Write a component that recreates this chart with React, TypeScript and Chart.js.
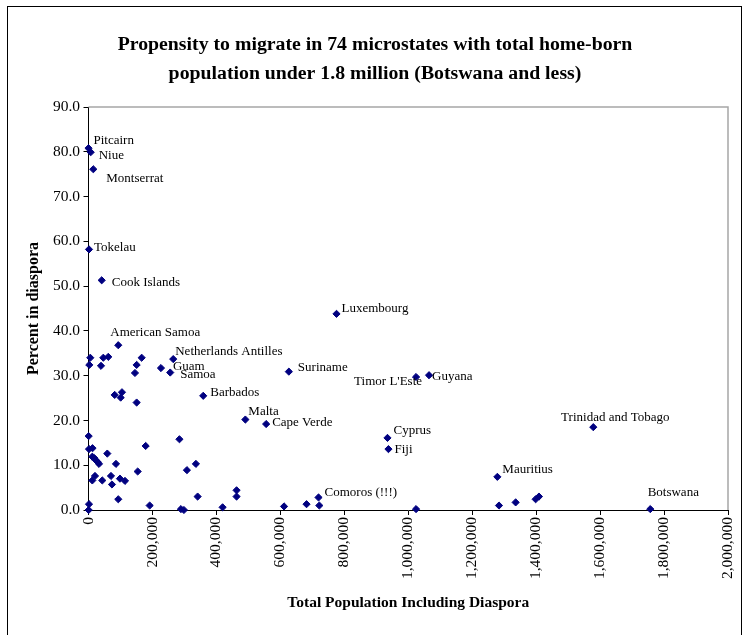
import React, { useEffect, useRef } from 'react';
import { Chart, registerables } from 'chart.js';

Chart.register(...registerables);

const titleLines = [
  'Propensity to migrate in 74 microstates with total home-born',
  'population under 1.8 million (Botswana and less)',
];
const xAxisTitle = 'Total Population Including Diaspora';
const yAxisTitle = 'Percent in diaspora';

const xTickValues = [0, 200000, 400000, 600000, 800000, 1000000, 1200000, 1400000, 1600000, 1800000, 2000000];
const yTickValues = [0, 10, 20, 30, 40, 50, 60, 70, 80, 90];

const population = [
  50, 6900, 15000, 1600, 41300, 93100,
  5600, 46300, 61900, 166300, 265000,
  2500, 39100, 150600, 226600, 145300, 255600, 626600,
  81900, 104700, 100600, 150600, 358800, 490600, 555600,
  775600, 1024400, 1065000, 935000, 938100, 1578700, 1278700, 1756900, 719400,
  721900, 681900, 611600, 1024400, 1283800, 1335900, 1398400, 1408800,
  500, 284400, 178800, 1600, 12500, 11900, 18100, 23400, 28800, 32800,
  58800, 85900, 335900, 307800, 153800, 20300, 70300, 11900, 43100, 73400, 98400, 114100,
  93100, 1600, 500, 191300, 289100, 298400, 341300, 463100, 463100, 419400,
];

const percentInDiaspora = [
  80.8, 79.9, 76.1, 58.2, 51.3, 36.8,
  34.0, 34.0, 34.2, 34.0, 33.7,
  32.4, 32.2, 32.4, 31.7, 30.6, 30.7, 30.9,
  25.7, 26.3, 25.1, 24.0, 25.5, 20.2, 19.2,
  43.8, 29.7, 30.1, 16.1, 13.6, 18.5, 7.4, 0.2, 2.8,
  1.0, 1.3, 0.8, 0.2, 1.0, 1.7, 2.4, 3.0,
  16.5, 15.8, 14.3, 13.6, 13.8, 11.9, 11.6, 11.1, 10.7, 10.3,
  12.6, 10.3, 10.3, 8.9, 8.6, 7.6, 7.6, 6.6, 6.6, 5.7, 7.0, 6.5,
  2.4, 1.3, 0.0, 1.0, 0.2, 0.0, 3.0, 4.4, 3.0, 0.6,
];

const countryNames = [
  'Pitcairn', 'Niue', 'Montserrat', 'Tokelau', 'Cook Islands', 'American Samoa',
  '', '', '', '', 'Netherlands Antilles',
  '', '', '', 'Guam', '', 'Samoa', 'Suriname',
  '', '', '', '', 'Barbados', 'Malta', 'Cape Verde',
  'Luxembourg', "Timor L'Este", 'Guyana', 'Cyprus', 'Fiji', 'Trinidad and Tobago', 'Mauritius', 'Botswana', 'Comoros (!!!)',
  '', '', '', '', '', '', '', '',
  '', '', '', '', '', '', '', '', '', '',
  '', '', '', '', '', '', '', '', '', '', '', '',
  '', '', '', '', '', '', '', '', '', '',
];

// label offsets (style only)
const labelPlacement: Record<string, { dx: number; dy: number; align: CanvasTextAlign }> = {
  'Pitcairn': { dx: 5, dy: -8, align: 'left' },
  'Niue': { dx: 8, dy: 3, align: 'left' },
  'Montserrat': { dx: 13, dy: 9, align: 'left' },
  'Tokelau': { dx: 5, dy: -2, align: 'left' },
  'Cook Islands': { dx: 10, dy: 2, align: 'left' },
  'American Samoa': { dx: -8, dy: -13, align: 'left' },
  'Netherlands Antilles': { dx: 2, dy: -8, align: 'left' },
  'Guam': { dx: 12, dy: -1, align: 'left' },
  'Samoa': { dx: 10, dy: 2, align: 'left' },
  'Suriname': { dx: 9, dy: -4, align: 'left' },
  'Barbados': { dx: 7, dy: -3, align: 'left' },
  'Malta': { dx: 3, dy: -8, align: 'left' },
  'Cape Verde': { dx: 6, dy: -1, align: 'left' },
  'Luxembourg': { dx: 5, dy: -5, align: 'left' },
  "Timor L'Este": { dx: 6, dy: 5, align: 'right' },
  'Guyana': { dx: 3, dy: 1, align: 'left' },
  'Cyprus': { dx: 6, dy: -7, align: 'left' },
  'Fiji': { dx: 6, dy: 0, align: 'left' },
  'Comoros (!!!)': { dx: 6, dy: -5, align: 'left' },
  'Mauritius': { dx: 5, dy: -7, align: 'left' },
  'Trinidad and Tobago': { dx: 22, dy: -10, align: 'center' },
  'Botswana': { dx: 23, dy: -17, align: 'center' },
};

const SERIF = '"Liberation Serif", "Times New Roman", serif';

const fmtThousands = (v: number) => String(Math.round(v)).replace(/\B(?=(\d{3})+(?!\d))/g, ',');

const plotFramePlugin = {
  id: 'plotFrame',
  beforeDatasetsDraw(chart: any) {
    const { ctx, chartArea: a } = chart;
    ctx.save();
    ctx.strokeStyle = '#a6a6a6';
    ctx.lineWidth = 1.5;
    ctx.beginPath();
    ctx.moveTo(a.left, a.top);
    ctx.lineTo(a.right, a.top);
    ctx.lineTo(a.right, a.bottom);
    ctx.stroke();
    ctx.restore();
  },
};

const pointLabelPlugin = {
  id: 'pointLabels',
  afterDatasetsDraw(chart: any) {
    const { ctx } = chart;
    const meta = chart.getDatasetMeta(0);
    ctx.save();
    ctx.font = `13px ${SERIF}`;
    ctx.fillStyle = '#000';
    ctx.textBaseline = 'middle';
    meta.data.forEach((el: any, i: number) => {
      const name = countryNames[i];
      if (!name) return;
      const p = labelPlacement[name];
      if (!p) return;
      ctx.textAlign = p.align;
      ctx.fillText(name, el.x + p.dx, el.y + p.dy);
    });
    ctx.restore();
  },
};

export default function App() {
  const canvasRef = useRef<HTMLCanvasElement | null>(null);

  useEffect(() => {
    if (!canvasRef.current) return;
    const points = population.map((x, i) => ({ x, y: percentInDiaspora[i] }));
    const chart = new Chart(canvasRef.current, {
      type: 'scatter',
      data: {
        datasets: [
          {
            data: points,
            pointStyle: 'rectRot',
            pointRadius: 3.6,
            pointHoverRadius: 3.6,
            backgroundColor: '#000080',
            borderColor: '#000080',
            borderWidth: 1,
            clip: false,
          } as any,
        ],
      },
      options: {
        animation: false,
        responsive: false,
        devicePixelRatio: 1,
        layout: { padding: { left: 22, right: 15, top: 0, bottom: 0 } },
        plugins: {
          legend: { display: false },
          tooltip: { enabled: false },
          title: {
            display: true,
            text: titleLines,
            color: '#000',
            font: { family: SERIF, size: 19.8, weight: 'bold', lineHeight: 29 / 19.8 },
            padding: { top: 30.5, bottom: 18.5 },
          },
        },
        scales: {
          x: {
            type: 'linear',
            min: 0,
            max: 2000000,
            afterBuildTicks: (s: any) => {
              s.ticks = xTickValues.map((v) => ({ value: v }));
            },
            afterFit: (s: any) => {
              s.height = 125;
              s.paddingLeft = 0;
              s.paddingRight = 0;
            },
            ticks: {
              callback: (v: any) => fmtThousands(Number(v)),
              minRotation: 90,
              maxRotation: 90,
              autoSkip: false,
              color: '#000',
              padding: 2,
              font: { family: SERIF, size: 15.5 },
            },
            grid: { drawOnChartArea: false, drawTicks: true, tickLength: 5, color: '#000' },
            border: { display: true, color: '#000', width: 1 },
            title: {
              display: true,
              text: xAxisTitle,
              color: '#000',
              font: { family: SERIF, size: 15.5, weight: 'bold' },
              padding: { top: 0, bottom: 23 },
            },
          },
          y: {
            type: 'linear',
            min: 0,
            max: 90,
            afterBuildTicks: (s: any) => {
              s.ticks = yTickValues.map((v) => ({ value: v }));
            },
            afterFit: (s: any) => {
              s.width = 66.5;
            },
            ticks: {
              callback: (v: any) => Number(v).toFixed(1),
              color: '#000',
              padding: 3.5,
              font: { family: SERIF, size: 15.5 },
            },
            grid: { drawOnChartArea: false, drawTicks: true, tickLength: 5, color: '#000' },
            border: { display: true, color: '#000', width: 1 },
            title: {
              display: true,
              text: yAxisTitle,
              color: '#000',
              font: { family: SERIF, size: 16, weight: 'bold' },
              padding: { top: 2.4, bottom: 0 },
            },
          },
        },
      } as any,
      plugins: [plotFramePlugin, pointLabelPlugin],
    });
    return () => chart.destroy();
  }, []);

  return (
    <div style={{ position: 'fixed', left: 0, top: 0, width: 743, height: 635, background: '#fff', overflow: 'hidden' }}>
      <canvas ref={canvasRef} width={743} height={635} style={{ display: 'block', width: 743, height: 635 }} />
      <div
        style={{
          position: 'absolute',
          left: 7,
          top: 6,
          width: 733,
          height: 700,
          border: '1px solid #000',
          pointerEvents: 'none',
        }}
      />
    </div>
  );
}
